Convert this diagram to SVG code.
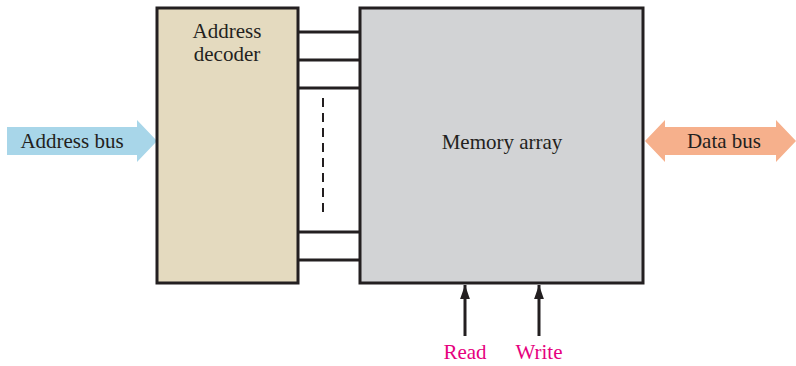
<svg xmlns="http://www.w3.org/2000/svg" width="796" height="366" viewBox="0 0 796 366">
<style>
text{font-family:"Liberation Serif","Times New Roman",serif;font-size:21px;fill:#231f20;text-anchor:middle}
.box{stroke:#231f20;stroke-width:3}
.ln{stroke:#231f20;stroke-width:3;fill:none}
.rw{fill:#e6007e}
</style>
<defs>
<marker id="ah" markerWidth="14" markerHeight="20" refX="20" refY="7" orient="auto" markerUnits="userSpaceOnUse" viewBox="0 0 20 14"><path d="M0,0 L20,7 L0,14 z" fill="#231f20"/></marker>
</defs>
<rect width="796" height="366" fill="#fff"/>
<g id="address-bus">
<polygon points="7,127 137,127 137,120 157,141 137,162 137,155 7,155" fill="#a8d6e9"/>
<text x="72" y="148">Address bus</text>
</g>
<g id="data-bus">
<polygon points="645,141 665,120 665,127 776,127 776,120 796,141 776,162 776,155 665,155 665,162" fill="#f6b08c"/>
<text x="724" y="148">Data bus</text>
</g>
<g id="decoder">
<rect class="box" x="157" y="8" width="141" height="275" fill="#e4dabf"/>
<text x="227" y="38">Address</text>
<text x="227" y="61">decoder</text>
</g>
<g id="memory">
<rect class="box" x="360" y="8" width="283" height="275" fill="#d2d3d5"/>
<text x="502" y="149">Memory array</text>
</g>
<g id="connectors">
<path class="ln" d="M298,32H360M298,60H360M298,88H360M298,232H360M298,260H360"/>
<path d="M323,98V218" stroke="#231f20" stroke-width="2" stroke-dasharray="9,6"/>
<path d="M465,336V285" class="ln" stroke-width="4" marker-end="url(#ah)"/>
<path d="M539,336V285" class="ln" stroke-width="4" marker-end="url(#ah)"/>
</g>
<g id="read"><text class="rw" x="465" y="359">Read</text></g>
<g id="write"><text class="rw" x="539" y="359">Write</text></g>
</svg>
